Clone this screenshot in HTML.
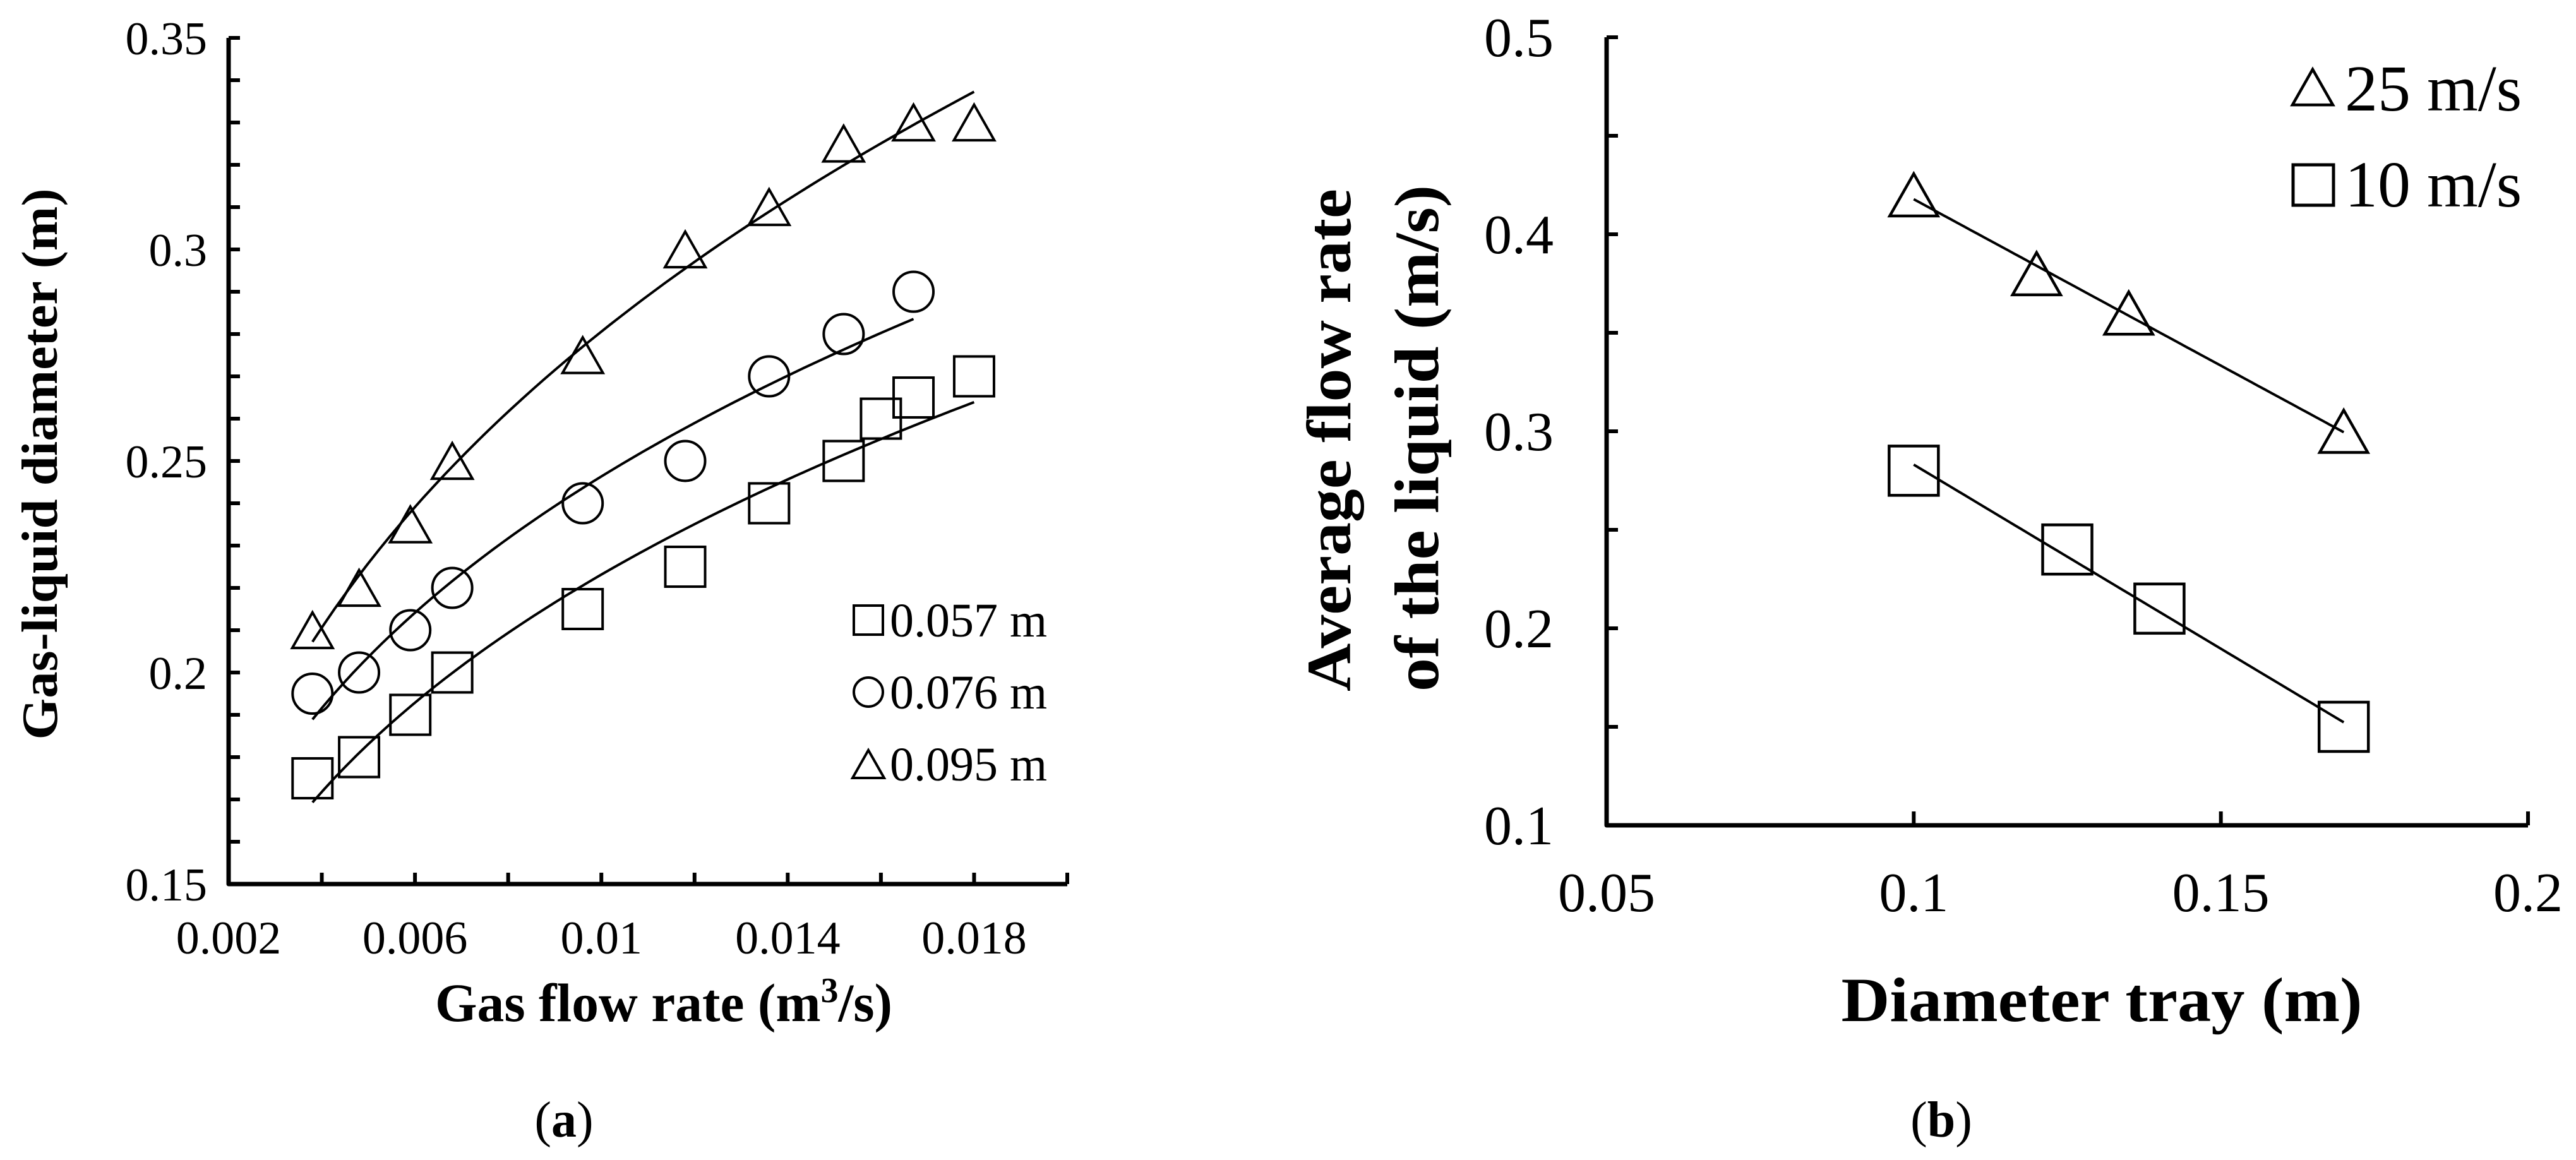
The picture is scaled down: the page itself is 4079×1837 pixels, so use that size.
<!DOCTYPE html>
<html><head><meta charset="utf-8"><style>
html,body{margin:0;padding:0;background:#fff;}
svg{display:block;}
text{font-family:"Liberation Serif",serif;fill:#000;}
</style></head><body>
<svg id="s" width="4079" height="1837" viewBox="0 0 4079 1837" xmlns="http://www.w3.org/2000/svg"></svg>
<script>
// Panel (a) data
const aTriX=[0.0038,0.0048,0.0059,0.0068,0.0096,0.0118,0.0136,0.0152,0.0167,0.018];
const aTriY=[0.21,0.22,0.235,0.25,0.275,0.30,0.31,0.325,0.33,0.33];
const aCirX=[0.0038,0.0048,0.0059,0.0068,0.0096,0.0118,0.0136,0.0152,0.0167];
const aCirY=[0.195,0.20,0.21,0.22,0.24,0.25,0.27,0.28,0.29];
const aSqX=[0.0038,0.0048,0.0059,0.0068,0.0096,0.0118,0.0136,0.0152,0.016,0.0167,0.018];
const aSqY=[0.175,0.18,0.19,0.20,0.215,0.225,0.24,0.25,0.26,0.265,0.27];
const aXTicks=["0.002","0.006","0.01","0.014","0.018"];
const aYTicks=["0.15","0.2","0.25","0.3","0.35"];
const aLegend=["0.057 m","0.076 m","0.095 m"];
// Panel (b) data
const bTriX=[0.10,0.12,0.135,0.17];
const bTriY=[0.42,0.38,0.36,0.30];
const bSqX=[0.10,0.125,0.14,0.17];
const bSqY=[0.28,0.24,0.21,0.15];
const bXTicks=["0.05","0.1","0.15","0.2"];
const bYTicks=["0.1","0.2","0.3","0.4","0.5"];
const bLegend=["25 m/s","10 m/s"];

const NS="http://www.w3.org/2000/svg";
const svg=document.getElementById('s');
function mk(tag,attrs,parent,txt){const e=document.createElementNS(NS,tag);for(const k in attrs)e.setAttribute(k,attrs[k]);if(txt!==undefined)e.textContent=txt;(parent||svg).appendChild(e);return e;}
function grp(name){const g=mk('g',{});return g;}

// scales
const ax={x0:362,x1:1690,y0:1400,y1:60,xmin:0.002,xmax:0.020,ymin:0.15,ymax:0.35};
const bx={x0:2544,x1:4003,y0:1307,y1:59,xmin:0.05,xmax:0.2,ymin:0.1,ymax:0.5};
function sx(p,v){return p.x0+(v-p.xmin)/(p.xmax-p.xmin)*(p.x1-p.x0);}
function sy(p,v){return p.y0-(v-p.ymin)/(p.ymax-p.ymin)*(p.y0-p.y1);}

function marker(g,type,cx,cy,s,sw){
  let e;
  if(type==='sq') e=mk('rect',{x:cx-s/2,y:cy-s/2,width:s,height:s,fill:'none',stroke:'#000','stroke-width':sw},g);
  else if(type==='ci') e=mk('circle',{cx:cx,cy:cy,r:s/2,fill:'none',stroke:'#000','stroke-width':sw},g);
  else {const h=s*0.88;e=mk('polygon',{points:`${cx},${cy-h/2} ${cx+s/2},${cy+h/2} ${cx-s/2},${cy+h/2}`,fill:'none',stroke:'#000','stroke-width':sw,'stroke-linejoin':'miter'},g);}
  
  
}
function powerFit(X,Y){const n=X.length;let sx_=0,sy_=0,sxx=0,sxy=0;for(let i=0;i<n;i++){const lx=Math.log(X[i]),ly=Math.log(Y[i]);sx_+=lx;sy_+=ly;sxx+=lx*lx;sxy+=lx*ly;}const b=(n*sxy-sx_*sy_)/(n*sxx-sx_*sx_);const a=Math.exp((sy_-b*sx_)/n);return v=>a*Math.pow(v,b);}
function linFit(X,Y){const n=X.length;let sx_=0,sy_=0,sxx=0,sxy=0;for(let i=0;i<n;i++){sx_+=X[i];sy_+=Y[i];sxx+=X[i]*X[i];sxy+=X[i]*Y[i];}const b=(n*sxy-sx_*sy_)/(n*sxx-sx_*sx_);const a=(sy_-b*sx_)/n;return v=>a+b*v;}
function curve(p,g,X,f,name){const lo=Math.min(...X),hi=Math.max(...X);let d='';for(let i=0;i<=60;i++){const v=lo+(hi-lo)*i/60;d+=(i?'L':'M')+sx(p,v).toFixed(1)+','+sy(p,f(v)).toFixed(1);}const e=mk('path',{d:d,fill:'none',stroke:'#000','stroke-width':4},g);}

// ---------- Panel A ----------
const gA=grp('panel-a-chart');
const gAax=mk('g',{},gA);
mk('polyline',{points:`${ax.x0},${ax.y1} ${ax.x0},${ax.y0} ${ax.x1},${ax.y0}`,fill:'none',stroke:'#000','stroke-width':7,'stroke-linejoin':'round'},gAax);
for(let i=0;i<=20;i++){const v=ax.ymin+i*0.01;const y=sy(ax,v);mk('line',{x1:ax.x0,y1:y,x2:ax.x0+18,y2:y,stroke:'#000','stroke-width':6},gAax);}
for(let i=0;i<=9;i++){const v=ax.xmin+i*0.002;const x=sx(ax,v);mk('line',{x1:x,y1:ax.y0,x2:x,y2:ax.y0-18,stroke:'#000','stroke-width':6},gAax);}
aYTicks.forEach((t,i)=>{const e=mk('text',{x:328,y:sy(ax,ax.ymin+i*0.05)+26,'font-size':74,'text-anchor':'end'},gA,t);});
aXTicks.forEach((t,i)=>{const e=mk('text',{x:sx(ax,ax.xmin+i*0.004),y:1510,'font-size':74,'text-anchor':'middle'},gA,t);});
let t=mk('text',{x:1051,y:1617,'font-size':86,'font-weight':'bold','text-anchor':'middle',textLength:724,lengthAdjust:'spacingAndGlyphs'},gA);

t.appendChild(document.createTextNode('Gas flow rate (m'));mk('tspan',{'font-size':56,dy:-30},t,'3');mk('tspan',{dy:30},t,'/s)');
t=mk('text',{x:0,y:0,'font-size':80,'font-weight':'bold','text-anchor':'middle',textLength:873,lengthAdjust:'spacingAndGlyphs',transform:'translate(90,735) rotate(-90)'},gA,'Gas-liquid diameter (m)');

const gAs=[['sq',aSqX,aSqY,'series-0-057'],['ci',aCirX,aCirY,'series-0-076'],['tr',aTriX,aTriY,'series-0-095']];
gAs.forEach(([ty,X,Y,nm])=>{const g=grp(nm);curve(ax,g,X,powerFit(X,Y),'fit-curve');X.forEach((v,i)=>marker(g,ty,sx(ax,v),sy(ax,Y[i]),ty==='tr'?64:63,4));});
const gAl=grp('panel-a-legend');
['sq','ci','tr'].forEach((ty,i)=>{const y=982+i*114;marker(gAl,ty,1375,y,ty==='tr'?50:46,4);const e=mk('text',{x:1409,y:y+26,'font-size':76},gAl,aLegend[i]);});
t=mk('text',{x:893,y:1800,'font-size':80,'text-anchor':'middle'},svg);
t.appendChild(document.createTextNode('('));mk('tspan',{'font-weight':'bold'},t,'a');t.appendChild(document.createTextNode(')'));

// ---------- Panel B ----------
const gB=grp('panel-b-chart');
const gBax=mk('g',{},gB);
mk('polyline',{points:`${bx.x0},${bx.y1} ${bx.x0},${bx.y0} ${bx.x1},${bx.y0}`,fill:'none',stroke:'#000','stroke-width':7,'stroke-linejoin':'round'},gBax);
for(let i=0;i<=8;i++){const y=sy(bx,bx.ymin+i*0.05);mk('line',{x1:bx.x0,y1:y,x2:bx.x0+18,y2:y,stroke:'#000','stroke-width':6},gBax);}
for(let i=0;i<=3;i++){const x=sx(bx,bx.xmin+i*0.05);mk('line',{x1:x,y1:bx.y0,x2:x,y2:bx.y0-22,stroke:'#000','stroke-width':6},gBax);}
bYTicks.forEach((s,i)=>{const e=mk('text',{x:2460,y:sy(bx,bx.ymin+i*0.1)+30,'font-size':88,'text-anchor':'end'},gB,s);});
bXTicks.forEach((s,i)=>{const e=mk('text',{x:sx(bx,bx.xmin+i*0.05),y:1443,'font-size':88,'text-anchor':'middle'},gB,s);});
t=mk('text',{x:3328,y:1617,'font-size':100,'font-weight':'bold','text-anchor':'middle',textLength:825,lengthAdjust:'spacingAndGlyphs'},gB,'Diameter tray (m)');

t=mk('text',{x:0,y:0,'font-size':100,'font-weight':'bold','text-anchor':'middle',textLength:796,lengthAdjust:'spacingAndGlyphs',transform:'translate(2138,697) rotate(-90)'},gB,'Average  flow rate');

t=mk('text',{x:0,y:0,'font-size':100,'font-weight':'bold','text-anchor':'middle',textLength:802,lengthAdjust:'spacingAndGlyphs',transform:'translate(2277,694) rotate(-90)'},gB,'of the liquid (m/s)');

[['tr',bTriX,bTriY,'series-25-ms'],['sq',bSqX,bSqY,'series-10-ms']].forEach(([ty,X,Y,nm])=>{const g=grp(nm);curve(bx,g,X,linFit(X,Y),'fit-line');X.forEach((v,i)=>marker(g,ty,sx(bx,v),sy(bx,Y[i]),ty==='tr'?76:78,4.5));});
const gBl=grp('panel-b-legend');
marker(gBl,'tr',3662,138,64,4.5);
marker(gBl,'sq',3663,293,64,5);
bLegend.forEach((s,i)=>{const e=mk('text',{x:3713,y:175+i*152,'font-size':104},gBl,s);});
t=mk('text',{x:3074,y:1800,'font-size':80,'text-anchor':'middle'},svg);
t.appendChild(document.createTextNode('('));mk('tspan',{'font-weight':'bold'},t,'b');t.appendChild(document.createTextNode(')'));
</script>
</body></html>
